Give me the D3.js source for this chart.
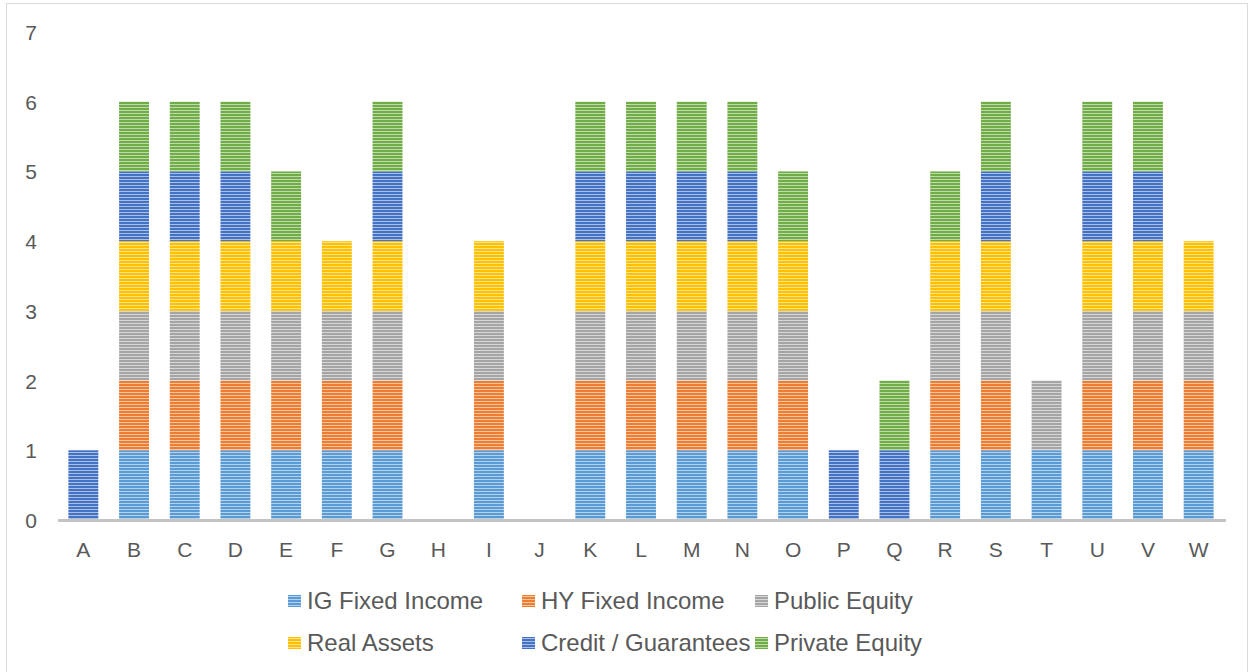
<!DOCTYPE html>
<html>
<head>
<meta charset="utf-8">
<script src="https://cdn.jsdelivr.net/npm/d3@7"></script>
<style>
body { margin: 0; background: #fff; }
text { font-family: "Liberation Sans", Arial, sans-serif; fill: #595959; }
</style>
</head>
<body>
<script>
// data
var categories = ["A","B","C","D","E","F","G","H","I","J","K","L","M","N","O","P","Q","R","S","T","U","V","W"];
var seriesNames = ["IG Fixed Income","HY Fixed Income","Public Equity","Real Assets","Credit / Guarantees","Private Equity"];
var igFixed    = [0,1,1,1,1,1,1,0,1,0,1,1,1,1,1,0,0,1,1,1,1,1,1];
var hyFixed    = [0,1,1,1,1,1,1,0,1,0,1,1,1,1,1,0,0,1,1,0,1,1,1];
var publicEq   = [0,1,1,1,1,1,1,0,1,0,1,1,1,1,1,0,0,1,1,1,1,1,1];
var realAssets = [0,1,1,1,1,1,1,0,1,0,1,1,1,1,1,0,0,1,1,0,1,1,1];
var credit     = [1,1,1,1,0,0,1,0,0,0,1,1,1,1,0,1,1,0,1,0,1,1,0];
var privateEq  = [0,1,1,1,1,0,1,0,0,0,1,1,1,1,1,0,1,1,1,0,1,1,0];
var yTicks = [0,1,2,3,4,5,6,7];
var colors = ["#5B9BD5","#ED7D31","#A5A5A5","#FFC000","#4472C4","#70AD47"];

var width = 1252, height = 672;

var rows = categories.map(function(c, i){
	return {cat: c, s0: igFixed[i], s1: hyFixed[i], s2: publicEq[i], s3: realAssets[i], s4: credit[i], s5: privateEq[i]};
});
var stack = d3.stack().keys(["s0","s1","s2","s3","s4","s5"])(rows);

var svg = d3.select("body").append("svg")
	.attr("width", width)
	.attr("height", height);

// striped fills
var defs = svg.append("defs");
colors.forEach(function(col, i){
	var p = defs.append("pattern")
		.attr("id", "stripe" + i)
		.attr("patternUnits", "userSpaceOnUse")
		.attr("width", 8)
		.attr("height", 3);
	p.append("rect").attr("width", 8).attr("height", 3).attr("fill", col);
	p.append("rect").attr("y", 2).attr("width", 8).attr("height", 1).attr("fill", "#fff").attr("opacity", 0.55);
});

// outer border
svg.append("rect")
	.attr("x", 6.5).attr("y", 3.5)
	.attr("width", 1241).attr("height", 680)
	.attr("fill", "none")
	.attr("stroke", "#d9d9d9");

var xScale = d3.scaleBand()
	.domain(categories)
	.range([58, 1224])
	.paddingInner(0.41)
	.paddingOuter(0.205);

var yScale = d3.scaleLinear()
	.domain([0, 7])
	.range([520, 32]);

// y labels
svg.selectAll(".ylab")
	.data(yTicks)
	.enter()
	.append("text")
		.attr("class", "ylab")
		.attr("x", 37)
		.attr("y", function(d){ return yScale(d) + 8; })
		.attr("text-anchor", "end")
		.attr("font-size", 21)
		.text(function(d){ return d; });

// bars
stack.forEach(function(layer, i){
	svg.append("g").selectAll("rect")
		.data(layer.filter(function(d){ return d[1] > d[0]; }))
		.enter()
		.append("rect")
			.attr("x", function(d){ return xScale(d.data.cat); })
			.attr("y", function(d){ return yScale(d[1]); })
			.attr("width", xScale.bandwidth())
			.attr("height", function(d){ return yScale(d[0]) - yScale(d[1]); })
			.attr("fill", "url(#stripe" + i + ")");
});

// x axis line
svg.append("line")
	.attr("x1", 58).attr("x2", 1226)
	.attr("y1", 520.5).attr("y2", 520.5)
	.attr("stroke", "#c4c4c4")
	.attr("stroke-width", 3);

svg.selectAll(".xlab")
	.data(categories)
	.enter()
	.append("text")
		.attr("class", "xlab")
		.attr("x", function(d){ return xScale(d) + xScale.bandwidth() / 2; })
		.attr("y", 557)
		.attr("text-anchor", "middle")
		.attr("font-size", 21)
		.text(function(d){ return d; });

// legend
var legX = [288, 522, 755];
var legY = [609, 651];
var leg = svg.selectAll(".leg")
	.data(seriesNames)
	.enter()
	.append("g")
		.attr("class", "leg")
		.attr("transform", function(d, i){
			return "translate(" + legX[i % 3] + "," + legY[Math.floor(i / 3)] + ")";
		});
leg.append("rect")
	.attr("x", 0).attr("y", -14)
	.attr("width", 13).attr("height", 12)
	.attr("fill", function(d, i){ return "url(#stripe" + i + ")"; });
leg.append("text")
	.attr("x", 19)
	.attr("y", 0)
	.attr("font-size", 24)
	.text(function(d){ return d; });
</script>
</body>
</html>
